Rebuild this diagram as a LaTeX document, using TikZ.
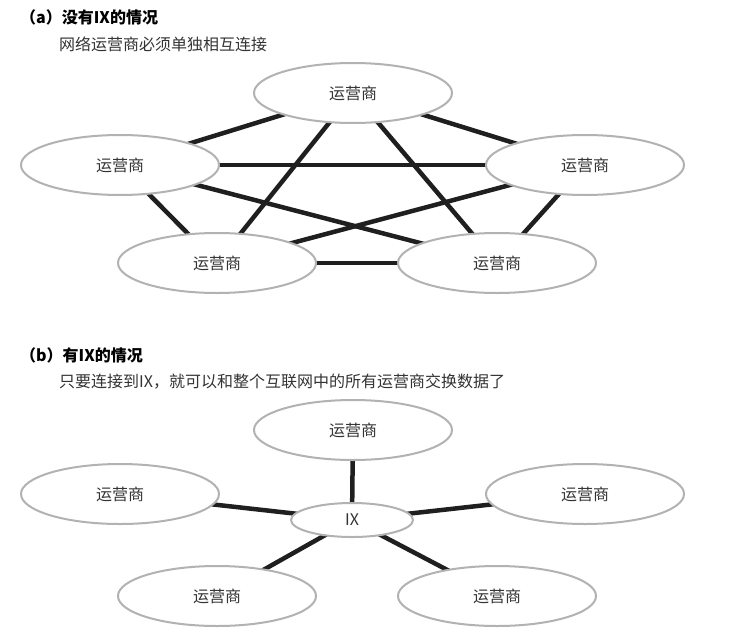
\documentclass[tikz,border=0pt]{standalone}
\usepackage{fontspec}
\newfontfamily\cjk{Noto Sans CJK SC}
\usetikzlibrary{shapes.geometric,backgrounds}
\tikzset{
  isp/.style={ellipse, draw=black!30, line width=2pt, fill=white, minimum width=198pt, minimum height=60pt, text=black!80},
  ixbox/.style={ellipse, draw=black!30, line width=2pt, fill=white, minimum width=122pt, minimum height=34pt, text=black!80},
  link/.style={line width=4.5pt, draw=black!88},
  caption/.style={anchor=west, inner sep=0pt, text=black!80},
}
\begin{document}
\begin{tikzpicture}[x=1pt, y=-1pt, font=\cjk\fontsize{16}{19}\selectfont, line join=round, line cap=round]
	\useasboundingbox (0,0) rectangle (735,642);
	% (a) without IX
	\node[caption, text=black, font=\cjk\bfseries\fontsize{16}{19}\selectfont] (titleA) at (20,17) {（a）没有IX的情况};
	\node[caption] (noteA) at (59,44) {网络运营商必须单独相互连接};
	\node[isp] (aT) at (353,93) {运营商};
	\node[isp] (aL) at (120,165) {运营商};
	\node[isp] (aR) at (585,165) {运营商};
	\node[isp] (aBL) at (217,263) {运营商};
	\node[isp] (aBR) at (497,263) {运营商};
	\begin{scope}[on background layer]
	\foreach \a/\b in {aT/aL, aT/aR, aT/aBL, aT/aBR, aL/aR, aL/aBL, aL/aBR, aR/aBL, aR/aBR, aBL/aBR}
	\draw[link] (\a.center) -- (\b.center);
	\end{scope}
	% (b) with IX
	\node[caption, text=black, font=\cjk\bfseries\fontsize{16}{19}\selectfont] (titleB) at (20,355) {（b）有IX的情况};
	\node[caption] (noteB) at (59,382) {只要连接到IX，就可以和整个互联网中的所有运营商交换数据了};
	\node[isp] (bT) at (353,430) {运营商};
	\node[isp] (bL) at (120,494) {运营商};
	\node[isp] (bR) at (585,494) {运营商};
	\node[isp] (bBL) at (217,596) {运营商};
	\node[isp] (bBR) at (497,596) {运营商};
	\node[ixbox] (ix) at (352,520) {IX};
	\begin{scope}[on background layer]
	\foreach \b in {bT, bL, bR, bBL, bBR}
	\draw[link] (ix.center) -- (\b.center);
	\end{scope}
\end{tikzpicture}
\end{document}
